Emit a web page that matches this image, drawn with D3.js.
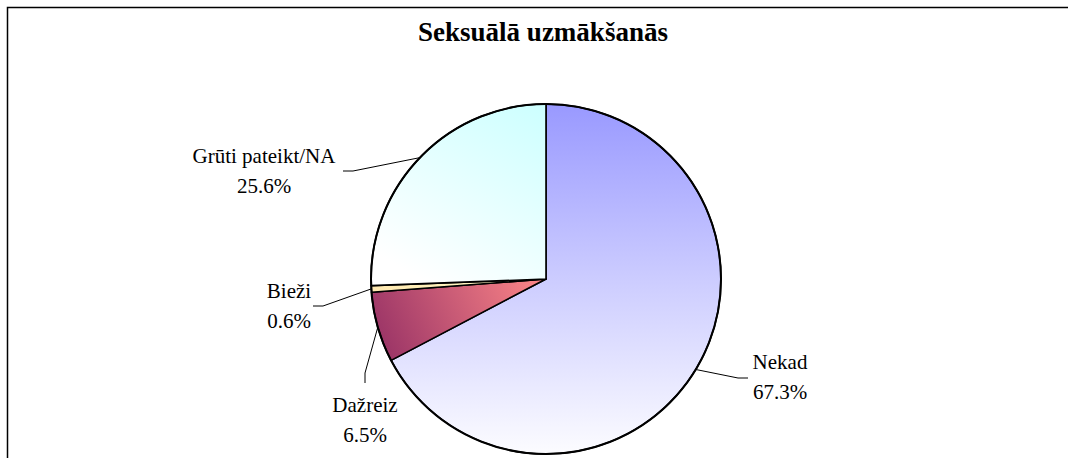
<!DOCTYPE html>
<html>
<head>
<meta charset="utf-8">
<script src="https://cdn.jsdelivr.net/npm/d3@7"></script>
<style>
  body { margin: 0; background: #fff; }
</style>
</head>
<body>
<div id="chart"></div>
<script>
// Chart data
const title = "Seksuālā uzmākšanās";
const categories = ["Nekad", "Dažreiz", "Bieži", "Grūti pateikt/NA"];
const values = [67.3, 6.5, 0.6, 25.6];
const valueLabels = ["67.3%", "6.5%", "0.6%", "25.6%"];

// SVG size and pie placement
const width = 1068, height = 458;
const cx = 546, cy = 279, radius = 175;
const serif = "'Liberation Serif', 'DejaVu Serif', serif";

// Where each label sits (block centre x, first baseline) and its leader elbow/end
const labelLayout = [
    {x: 780, y: 369, elbow: [738, 378], end: [748, 378]},
    {x: 365, y: 412, elbow: [365, 373], end: [365, 383]},
    {x: 289, y: 298, elbow: [323, 306], end: [313, 306]},
    {x: 264, y: 163, elbow: [353, 171], end: [343, 171]}
];

const svg = d3.select("#chart")
    .append("svg")
    .attr("width", width)
    .attr("height", height)
    .attr("font-family", serif);

// Gradients, roughly like the Excel fills (coords relative to pie centre)
const defs = svg.append("defs");
function addGradient(id, x1, y1, x2, y2, stops) {
    const g = defs.append("linearGradient")
        .attr("id", id)
        .attr("gradientUnits", "userSpaceOnUse")
        .attr("x1", x1).attr("y1", y1)
        .attr("x2", x2).attr("y2", y2);
    stops.forEach(s => g.append("stop").attr("offset", s[0]).attr("stop-color", s[1]));
}
addGradient("g0", 0, -radius, 0, radius, [[0, "#9999ff"], [0.5, "#ccccff"], [1, "#fcfcff"]]);
addGradient("g1", 0, 0, -165, 75, [[0, "#ff8888"], [1, "#993366"]]);
addGradient("g2", 0, 0, -radius, 0, [[0, "#ffffcc"], [1, "#ffe8b0"]]);
addGradient("g3", 0, -radius, -110, 10, [[0, "#ccffff"], [1, "#ffffff"]]);
const fills = ["url(#g0)", "url(#g1)", "url(#g2)", "url(#g3)"];

// Frame (runs off the right and bottom edges like the reference)
svg.append("rect")
    .attr("x", 7.5).attr("y", 7.5)
    .attr("width", width + 20).attr("height", height + 20)
    .attr("fill", "none")
    .attr("stroke", "#000")
    .attr("stroke-width", 1.5);

// Title
svg.append("text")
    .attr("x", 543)
    .attr("y", 41)
    .attr("text-anchor", "middle")
    .attr("font-family", serif)
    .attr("font-size", 27)
    .attr("font-weight", "bold")
    .text(title);

const data = categories.map((c, i) => ({name: c, value: values[i], label: valueLabels[i]}));

const pie = d3.pie().sort(null).value(d => d.value)(data);
const arc = d3.arc().innerRadius(0).outerRadius(radius);
const edge = d3.arc().innerRadius(radius).outerRadius(radius);

const g = svg.append("g").attr("transform", `translate(${cx},${cy})`);

// Draw slices
g.selectAll("path")
    .data(pie)
    .enter()
    .append("path")
    .attr("d", arc)
    .attr("fill", (d, i) => fills[i])
    .attr("stroke", "#000")
    .attr("stroke-width", 1.6)
    .attr("stroke-linejoin", "round");

// Outer rim
g.append("circle")
    .attr("r", radius)
    .attr("fill", "none")
    .attr("stroke", "#000")
    .attr("stroke-width", 2);

// Leader lines
svg.selectAll("polyline.leader")
    .data(pie)
    .enter()
    .append("polyline")
    .attr("class", "leader")
    .attr("fill", "none")
    .attr("stroke", "#000")
    .attr("stroke-width", 1)
    .attr("points", (d, i) => {
        const p = edge.centroid(d);
        const L = labelLayout[i];
        return [[cx + p[0], cy + p[1]], L.elbow, L.end].map(q => q.join(",")).join(" ");
    });

// Labels: category + percentage
const labels = svg.selectAll("text.lbl")
    .data(pie)
    .enter()
    .append("text")
    .attr("class", "lbl")
    .attr("text-anchor", "middle")
    .attr("font-family", serif)
    .attr("font-size", 21);

labels.append("tspan")
    .attr("x", (d, i) => labelLayout[i].x)
    .attr("y", (d, i) => labelLayout[i].y)
    .text(d => d.data.name);

labels.append("tspan")
    .attr("x", (d, i) => labelLayout[i].x)
    .attr("y", (d, i) => labelLayout[i].y + 30)
    .text(d => d.data.label);
</script>
</body>
</html>
